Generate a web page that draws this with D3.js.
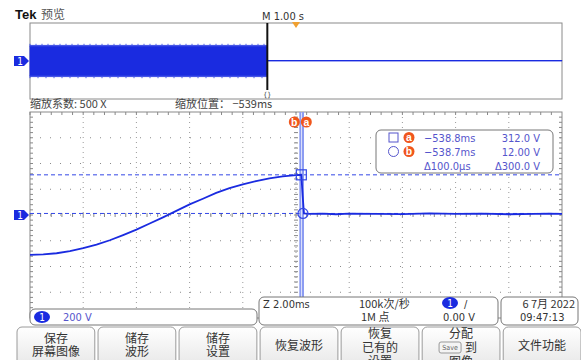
<!DOCTYPE html>
<html>
<head>
<meta charset="utf-8">
<script src="https://cdn.jsdelivr.net/npm/d3@7"></script>
<style>
  body { margin: 0; background: #fff; }
  svg { display: block; }
  text { font-family: "Liberation Sans Narrow", "DejaVu Sans Condensed", "Noto Sans CJK SC", sans-serif; }
  .cjk { font-family: "Noto Sans CJK SC", sans-serif; }
</style>
</head>
<body>
<div id="chart"></div>
<script>
// zoomed trace, time in ms, volts
const traceTime = [-549, -548.5, -548, -547.5, -547, -546.5, -546, -545.5, -545, -544.5, -544,
  -543.5, -543, -542.5, -542, -541.5, -541, -540.5, -540, -539.5, -539, -538.8,
  -538.75, -538.7, -538.5, -538, -537.5, -537, -536, -535, -534, -533, -532, -531, -530, -529.5, -529];
const traceVolts = [-310, -306, -297, -281, -258, -230, -196, -156, -114, -66, -18,
  32, 82, 126, 172, 208, 238, 264, 285, 300, 309, 312,
  150, 12, 8, 10, 6, 11, 9, 7, 12, 8, 10, 6, 9, 11, 8];

// overview record, time in s, envelope volts
const ovTime = [-5, -0.539, -0.539, 5];
const ovMax = [320, 320, 10, 10];
const ovMin = [-320, -320, 2, 2];

// cursors
const cursorA = { t: -538.8, v: 312.0 };
const cursorB = { t: -538.7, v: 12.00 };
const readout = [
  ["\u2212538.8ms", "312.0 V"],
  ["\u2212538.7ms", "12.00 V"],
  ["\u0394100.0\u03bcs", "\u0394300.0 V"]
];

const menuLabels = [
  ["保存", "屏幕图像"], ["储存", "波形"], ["储存", "设置"], ["恢复波形"],
  ["恢复", "已有的", "设置"], ["分配", "到", "图像"], ["文件功能"]
];

const W = 581, H = 360;
const BLUE = "#1a2be0";
const CUR = "#3347e6";
const TXT = "#5555cc";
const ORANGE = "#f0561c";

const svg = d3.select("#chart").append("svg").attr("width", W).attr("height", H);

// ---------- overview ----------
const ovX = d3.scaleLinear().domain([-5, 5]).range([30, 562]);
const ovY = d3.scaleLinear().domain([-800, 800]).range([99, 23]);

svg.append("text").attr("x", 15).attr("y", 19).attr("font-size", 13).attr("font-weight", "bold")
   .attr("fill", "#111").style("font-family", "Liberation Sans, Arial, sans-serif").text("Tek");
svg.append("text").attr("class", "cjk").attr("x", 41).attr("y", 19).attr("font-size", 12)
   .attr("fill", "#555").text("预览");

svg.append("rect").attr("x", 30).attr("y", 23).attr("width", 532).attr("height", 76)
   .attr("fill", "#fff").attr("stroke", "#8a8a8a");

const ovData = ovTime.map((t, i) => ({ t: t, hi: ovMax[i], lo: ovMin[i] }));
svg.append("path").datum(ovData)
   .attr("d", d3.area().x(d => ovX(d.t)).y0(d => ovY(d.lo)).y1(d => ovY(d.hi)))
   .attr("fill", BLUE).attr("stroke", BLUE).attr("stroke-width", 1);
// jagged edges of the dense band
const edge = d3.range(ovX(-5), ovX(-0.539), 2);
const edges = svg.append("g").attr("stroke", "#3f50e6").attr("stroke-width", 1);
edges.selectAll(".et").data(edge).join("line")
   .attr("x1", d => d).attr("x2", d => d)
   .attr("y1", (d, i) => ovY(320) - 1 - (i % 3 === 0 ? 1 : 0)).attr("y2", ovY(320) + 1);
edges.selectAll(".eb").data(edge).join("line")
   .attr("x1", d => d).attr("x2", d => d)
   .attr("y1", ovY(-320) - 1).attr("y2", (d, i) => ovY(-320) + 1 + (i % 4 === 0 ? 1 : 0));

// zoom window marker
svg.append("line").attr("x1", ovX(-0.539)).attr("x2", ovX(-0.539)).attr("y1", 23).attr("y2", 90)
   .attr("stroke", "#111").attr("stroke-width", 2);
svg.append("text").attr("x", ovX(-0.539)).attr("y", 97).attr("text-anchor", "middle")
   .attr("font-size", 7).attr("fill", "#333").text("{}");
svg.append("text").attr("x", 262).attr("y", 20).attr("font-size", 11).attr("fill", "#333").text("M 1.00 s");
svg.append("path").attr("d", `M${ovX(0) - 4},22 L${ovX(0) + 4},22 L${ovX(0)},28 Z`).attr("fill", "#f0a030");

function chMarker(y) {
  svg.append("path").attr("d", `M14,${y - 5} L24,${y - 5} L29,${y} L24,${y + 5} L14,${y + 5} Z`)
     .attr("fill", BLUE);
  svg.append("text").attr("x", 20).attr("y", y + 4).attr("text-anchor", "middle")
     .attr("font-size", 10).attr("fill", "#fff").text("1");
}
chMarker(ovY(0));

svg.append("text").attr("class", "cjk").attr("x", 30).attr("y", 108).attr("font-size", 11)
   .attr("fill", "#444").text("缩放系数: 500 X");
svg.append("text").attr("class", "cjk").attr("x", 175).attr("y", 108).attr("font-size", 11)
   .attr("fill", "#444").text("缩放位置： −539ms");

// ---------- main zoomed view ----------
const x = d3.scaleLinear().domain([-549, -529]).range([30, 562]);
const y = d3.scaleLinear().domain([-800, 800]).range([318, 112]);

svg.append("rect").attr("x", 30).attr("y", 112).attr("width", 532).attr("height", 206)
   .attr("fill", "#fff").attr("stroke", "#8a8a8a");

const grid = svg.append("g");
const xDivs = d3.range(-547, -529, 2);
const yDivs = d3.range(-600, 800, 200);
grid.selectAll(".vg").data(xDivs).join("line")
    .attr("x1", d => x(d)).attr("x2", d => x(d)).attr("y1", 112).attr("y2", 318)
    .attr("stroke", "#9a9a9a").attr("stroke-dasharray", "1,4");
grid.selectAll(".hg").data(yDivs).join("line")
    .attr("x1", 30).attr("x2", 562).attr("y1", d => y(d)).attr("y2", d => y(d))
    .attr("stroke", "#8a8a8a").attr("stroke-dasharray", "1,9");

// minor ticks on border and centre axes
const xMinor = d3.range(-549, -529, 0.4);
const yMinor = d3.range(-800, 800, 40);
grid.selectAll(".tb").data(xMinor).join("line")
    .attr("x1", d => x(d)).attr("x2", d => x(d)).attr("y1", 112).attr("y2", 115).attr("stroke", "#888");
grid.selectAll(".tc").data(xMinor).join("line")
    .attr("x1", d => x(d)).attr("x2", d => x(d)).attr("y1", y(0) - 2).attr("y2", y(0) + 2).attr("stroke", "#888");
grid.selectAll(".tl").data(yMinor).join("line")
    .attr("x1", 30).attr("x2", 33).attr("y1", d => y(d)).attr("y2", d => y(d)).attr("stroke", "#888");
grid.selectAll(".tr").data(yMinor).join("line")
    .attr("x1", 559).attr("x2", 562).attr("y1", d => y(d)).attr("y2", d => y(d)).attr("stroke", "#888");
grid.selectAll(".tm").data(yMinor).join("line")
    .attr("x1", x(-539) - 2).attr("x2", x(-539) + 2).attr("y1", d => y(d)).attr("y2", d => y(d)).attr("stroke", "#888");

// horizontal cursors
[cursorA, cursorB].forEach(c => {
  svg.append("line").attr("x1", 30).attr("x2", 562).attr("y1", y(c.v)).attr("y2", y(c.v))
     .attr("stroke", CUR).attr("stroke-width", 1).attr("stroke-dasharray", "4,3");
});
// vertical cursors
[cursorB, cursorA].forEach(c => {
  svg.append("line").attr("x1", x(c.t) - 1).attr("x2", x(c.t) - 1).attr("y1", 112).attr("y2", 318)
     .attr("stroke", "#8c9cf2").attr("stroke-width", 2);
});

// trace
const trace = traceTime.map((t, i) => ({ t: t, v: traceVolts[i] }));
svg.append("path").datum(trace)
   .attr("d", d3.line().x(d => x(d.t)).y(d => y(d.v)))
   .attr("fill", "none").attr("stroke", BLUE).attr("stroke-width", 1.8);

// cursor markers
svg.append("rect").attr("x", x(cursorA.t) - 5).attr("y", y(cursorA.v) - 5).attr("width", 10).attr("height", 10)
   .attr("fill", "none").attr("stroke", CUR).attr("stroke-width", 1.2);
svg.append("circle").attr("cx", x(cursorB.t) - 1).attr("cy", y(cursorB.v)).attr("r", 5)
   .attr("fill", "none").attr("stroke", CUR).attr("stroke-width", 1.2);

function badge(cx, cy, r, letter) {
  svg.append("circle").attr("cx", cx).attr("cy", cy).attr("r", r).attr("fill", ORANGE);
  svg.append("text").attr("x", cx).attr("y", cy + r * 0.7).attr("text-anchor", "middle")
     .attr("font-size", r * 1.9).attr("font-weight", "bold").attr("fill", "#fff")
     .style("font-family", "Liberation Sans, Arial, sans-serif").text(letter);
}
badge(x(cursorA.t) - 7, 122, 5.5, "b");
badge(x(cursorA.t) + 5, 122, 5.5, "a");

chMarker(y(0));

// readout box
svg.append("rect").attr("x", 376).attr("y", 130).attr("width", 177).attr("height", 43).attr("rx", 5)
   .attr("fill", "#fff").attr("stroke", "#777");
const rowY = [142, 156, 170];
svg.append("rect").attr("x", 389).attr("y", rowY[0] - 9).attr("width", 9).attr("height", 9)
   .attr("fill", "none").attr("stroke", TXT);
svg.append("circle").attr("cx", 393.5).attr("cy", rowY[1] - 4.5).attr("r", 5)
   .attr("fill", "none").attr("stroke", TXT);
badge(409, rowY[0] - 4.5, 5.5, "a");
badge(409, rowY[1] - 4.5, 5.5, "b");
readout.forEach((r, i) => {
  svg.append("text").attr("x", 424).attr("y", rowY[i]).attr("font-size", 11).attr("fill", TXT).text(r[0]);
  svg.append("text").attr("x", 540).attr("y", rowY[i]).attr("text-anchor", "end")
     .attr("font-size", 11).attr("fill", TXT).text(r[1]);
});

// ---------- status boxes ----------
svg.append("rect").attr("x", 30).attr("y", 309).attr("width", 227).attr("height", 16).attr("rx", 5)
   .attr("fill", "#fff").attr("stroke", "#777");
function chBadge(cx, cy) {
  svg.append("ellipse").attr("cx", cx).attr("cy", cy).attr("rx", 8).attr("ry", 6).attr("fill", BLUE);
  svg.append("text").attr("x", cx).attr("y", cy + 4).attr("text-anchor", "middle")
     .attr("font-size", 10).attr("fill", "#fff").text("1");
}
chBadge(42, 317);
svg.append("text").attr("x", 63).attr("y", 321).attr("font-size", 11).attr("fill", TXT).text("200 V");

svg.append("rect").attr("x", 259).attr("y", 297).attr("width", 239).attr("height", 28).attr("rx", 5)
   .attr("fill", "#fff").attr("stroke", "#777");
svg.append("text").attr("x", 263).attr("y", 308).attr("font-size", 11).attr("fill", "#333").text("Z 2.00ms");
svg.append("text").attr("class", "cjk").attr("x", 359).attr("y", 308).attr("font-size", 11).attr("fill", "#333").text("100k次/秒");
svg.append("text").attr("class", "cjk").attr("x", 361).attr("y", 321).attr("font-size", 11).attr("fill", "#333").text("1M 点");
chBadge(450, 303);
svg.append("text").attr("x", 464).attr("y", 308).attr("font-size", 11).attr("fill", "#333").text("/");
svg.append("text").attr("x", 443).attr("y", 321).attr("font-size", 11).attr("fill", "#333").text("0.00 V");

svg.append("rect").attr("x", 501).attr("y", 297).attr("width", 77).attr("height", 28).attr("rx", 5)
   .attr("fill", "#fff").attr("stroke", "#777");
svg.append("text").attr("class", "cjk").attr("x", 575).attr("y", 308).attr("text-anchor", "end")
   .attr("font-size", 11).attr("fill", "#333").text("6 7月 2022");
svg.append("text").attr("x", 520).attr("y", 321).attr("font-size", 11).attr("fill", "#333").text("09:47:13");

// ---------- soft menu ----------
const defs = svg.append("defs");
const grad = defs.append("linearGradient").attr("id", "btn").attr("x1", 0).attr("x2", 0).attr("y1", 0).attr("y2", 1);
grad.append("stop").attr("offset", "0%").attr("stop-color", "#ffffff");
grad.append("stop").attr("offset", "100%").attr("stop-color", "#e4e4e4");

const btnX = d3.scaleBand().domain(d3.range(menuLabels.length)).range([17, 581]).paddingInner(0.04);
menuLabels.forEach((lines, i) => {
  const bx = btnX(i), bw = btnX.bandwidth();
  svg.append("rect").attr("x", bx).attr("y", 327).attr("width", bw).attr("height", 45).attr("rx", 5)
     .attr("fill", "url(#btn)").attr("stroke", "#9a9a9a");
  const cx = bx + bw / 2;
  const ys = lines.length === 1 ? [350] : lines.length === 2 ? [343, 356] : [338, 352, 366];
  lines.forEach((l, j) => {
    let tx = cx;
    if (i === 5 && j === 1) {
      tx = cx + 10;
      svg.append("rect").attr("x", cx - 22).attr("y", ys[j] - 10).attr("width", 22).attr("height", 11)
         .attr("rx", 2).attr("fill", "#f4f4f4").attr("stroke", "#999");
      svg.append("text").attr("x", cx - 11).attr("y", ys[j] - 2).attr("text-anchor", "middle")
         .attr("font-size", 7).attr("fill", "#666").text("Save");
    }
    svg.append("text").attr("class", "cjk").attr("x", tx).attr("y", ys[j]).attr("text-anchor", "middle")
       .attr("font-size", 12).attr("fill", "#333").text(l);
  });
});
</script>
</body>
</html>
